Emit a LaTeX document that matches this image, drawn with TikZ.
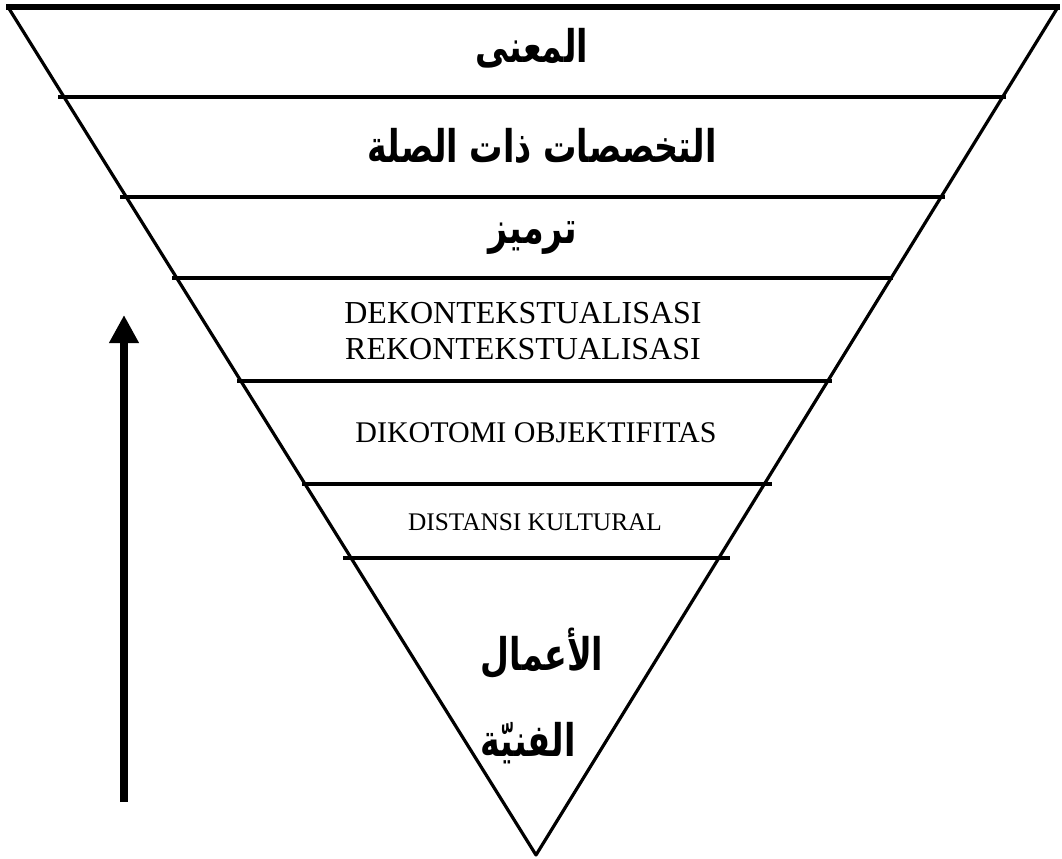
\documentclass[tikz,border=0pt]{standalone}
\usepackage{fontspec}
\setmainfont{Liberation Serif}
\newfontfamily\arabicfont[Script=Arabic]{DejaVu Sans}
\TeXXeTstate=1
\usetikzlibrary{arrows.meta}
\newcommand{\artxt}[1]{\scalebox{1}[1.35]{\beginR #1\endR}}
\tikzset{
  edge/.style={line width=2.4pt, line cap=round, line join=round},
  layer/.style={line width=2.4pt},
  ar/.style={font=\arabicfont\bfseries\fontsize{25}{30}\selectfont, inner sep=0pt},
  lat/.style={font=\fontsize{#1}{#1}\selectfont, inner sep=0pt, align=center},
}
\begin{document}
\begin{tikzpicture}[x=0.75pt,y=-0.75pt]
\useasboundingbox (0,0) rectangle (1062,858);
% triangle
\coordinate (tl) at (8,7);
\coordinate (tr) at (1058,7);
\coordinate (apex) at (536,855);
\draw[edge] (tl) -- (apex) -- (tr);
\draw[line width=3.8pt] (6,7) -- (1060,7);
% layer lines
\draw[layer] (58,97) -- (1006,97);
\draw[layer] (120,197) -- (945,197);
\draw[layer] (172,278) -- (893,278);
\draw[layer] (237,381) -- (832,381);
\draw[line width=3.2pt] (302,484) -- (772,484);
\draw[layer] (343,558) -- (730,558);
% texts
\node[ar] (t1) at (532,48) {\artxt{المعنى}};
\node[ar] (t2) at (542,146) {\artxt{التخصصات ذات الصلة}};
\node[ar] (t3) at (533,238) {\artxt{ترميز}};
\node[lat=24] (t4a) at (523,313) {DEKONTEKSTUALISASI};
\node[lat=24] (t4b) at (523,349) {REKONTEKSTUALISASI};
\node[lat=22.5] (t5) at (536,433) {DIKOTOMI OBJEKTIFITAS};
\node[lat=19] (t6) at (535,522) {DISTANSI KULTURAL};
\node[ar] (t7) at (542,653) {\artxt{الأعمال}};
\node[ar] (t8) at (528,743) {\artxt{الفنيّة}};
% arrow
\coordinate (abot) at (124,802);
\coordinate (atop) at (124,315);
\draw[line width=6pt, -{Triangle[width=21pt,length=21pt]}] (abot) -- (atop);
\end{tikzpicture}
\end{document}
